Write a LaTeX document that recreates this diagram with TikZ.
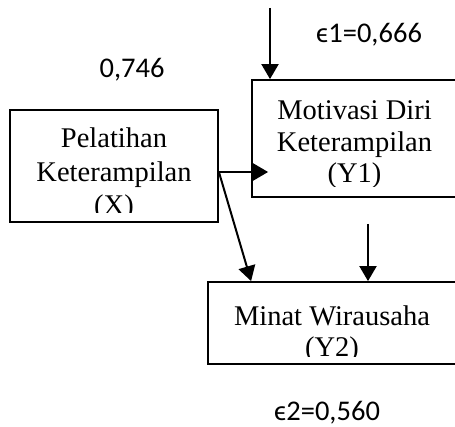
\documentclass[tikz,border=0pt]{standalone}
\usepackage{fontspec}
\setmainfont{Liberation Serif}
\newfontfamily\labfont{Carlito}
\usetikzlibrary{arrows.meta}

\begin{document}
\begin{tikzpicture}[x=1pt,y=-1pt,>={Triangle[length=15pt,width=17pt]},line width=2pt,
      block/.style={rectangle, draw, line width=1.8pt, inner sep=0pt},
      boxtext/.style={align=center, inner sep=0pt, anchor=base, font=\fontsize{28.5}{#1}\selectfont},
      boxtext/.default=32,
      coef/.style={inner sep=0pt, font=\labfont\fontsize{28.5}{34}\selectfont}]

    \useasboundingbox (0,0) rectangle (455,427);

    % boxes
    \node[block, minimum width=208pt, minimum height=112pt] (X) at (114,166) {};
    \node[block, minimum width=205pt, minimum height=117pt] (Y1) at (354.5,138.5) {};
    \node[block, minimum width=248pt, minimum height=82pt] (Y2) at (332,323) {};

    % box texts, cut off at the inner margin
    \begin{scope}
    \clip ([yshift=10pt]X.south west) rectangle (X.north east);
    \node[boxtext=33.5] (Xt) at (114,215) {Pelatihan\\Keterampilan\\(X)};
    \end{scope}
    \begin{scope}
    \clip ([yshift=11pt]Y1.south west) rectangle (Y1.north east);
    \node[boxtext=31.5] (Y1t) at (354.5,183) {Motivasi Diri\\Keterampilan\\(Y1)};
    \end{scope}
    \begin{scope}
    \clip ([yshift=8pt]Y2.south west) rectangle (Y2.north east);
    \node[boxtext] (Y2t) at (332,357) {Minat Wirausaha\\(Y2)};
    \end{scope}

    \coordinate (top1) at (270,8);
    \coordinate (top2) at (368,224);
    \coordinate (o) at ([yshift=-6pt]X.east);

    \draw[->] (top1) -- (top1 |- Y1.north);
    \draw[->, shorten >=-17pt] (o) -- (o -| Y1.west);
    \draw[->] (o) -- ([xshift=44pt]Y2.north west);
    \draw[->] (top2) -- (top2 |- Y2.north);

    \node[coef] (e1) at (369,35) {ϵ1=0,666};
    \node[coef] (p1) at (132,70) {0,746};
    \node[coef] (e2) at (327,413) {ϵ2=0,560};
\end{tikzpicture}
\end{document}
